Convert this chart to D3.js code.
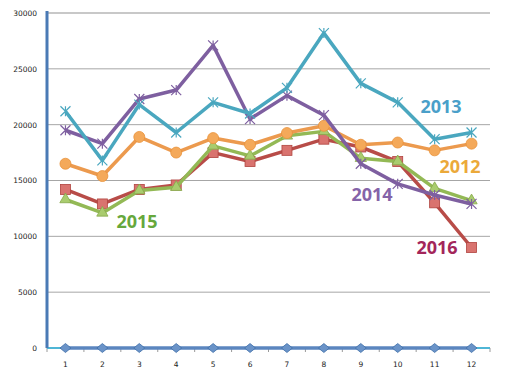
<!DOCTYPE html>
<meta charset="utf-8">
<style>
  body { margin: 0; background: #fff; }
  .tick text { font-family: "DejaVu Sans", sans-serif; font-size: 7.5px; fill: #222; }
  text.yr { font-family: "Open Sans", sans-serif; font-weight: 700; font-size: 18px; }
</style>
<script src="https://d3js.org/d3.v7.min.js"></script>
<div id="chart"></div>
<script>
// months 1..12
var months = [1, 2, 3, 4, 5, 6, 7, 8, 9, 10, 11, 12];
var yTicks = [0, 5000, 10000, 15000, 20000, 25000, 30000];

var zero  = [0, 0, 0, 0, 0, 0, 0, 0, 0, 0, 0, 0];
var v2012 = [16500, 15400, 18900, 17500, 18800, 18200, 19250, 19900, 18200, 18400, 17700, 18300];
var v2013 = [21200, 16800, 21800, 19300, 22000, 21000, 23300, 28200, 23700, 22000, 18700, 19300];
var v2014 = [19500, 18300, 22300, 23100, 27100, 20500, 22600, 20850, 16500, 14700, 13700, 12900];
var v2015 = [13300, 12100, 14100, 14400, 18100, 17200, 19000, 19400, 17000, 16700, 14300, 13200];
var v2016 = [14200, 12900, 14200, 14600, 17500, 16700, 17700, 18700, 18000, 16700, 13000, 9000];

var W = 509, H = 377;
var margin = {top: 13, right: 19, bottom: 29, left: 47};
var width = W - margin.left - margin.right,
    height = H - margin.top - margin.bottom;

var svg = d3.select("#chart").append("svg")
    .attr("width", W).attr("height", H)
  .append("g")
    .attr("transform", "translate(" + margin.left + "," + margin.top + ")");

var x = d3.scaleBand().domain(months).range([0, width]);
var y = d3.scaleLinear().domain([0, 30000]).range([height, 0]);
var cx = function(d) { return x(d) + x.bandwidth() / 2; };

// gridlines
svg.append("g")
  .selectAll("line").data(yTicks.slice(1)).enter().append("line")
    .attr("x1", 0).attr("x2", width)
    .attr("y1", function(d) { return y(d); })
    .attr("y2", function(d) { return y(d); })
    .attr("stroke", function(d) { return d == 30000 ? "#c8c8c8" : "#a6a6a6"; })
    .attr("stroke-width", function(d) { return d == 30000 ? 2 : 1; });

// y axis
var ya = svg.append("g")
  .call(d3.axisLeft(y).tickValues(yTicks).tickSize(0).tickPadding(10).tickFormat(d3.format("d")));
ya.select(".domain").remove();

// x axis
var xa = svg.append("g")
  .attr("transform", "translate(0," + height + ")")
  .call(d3.axisBottom(x).tickSize(0).tickPadding(14));
xa.select(".domain").remove();
svg.append("g").selectAll("line").data(d3.range(13)).enter().append("line")
  .attr("x1", function(i) { return i * x.bandwidth(); })
  .attr("x2", function(i) { return i * x.bandwidth(); })
  .attr("y1", height).attr("y2", height + 4)
  .attr("stroke", "#9a9a9a");
svg.append("line")
  .attr("x1", 0).attr("x2", width).attr("y1", height).attr("y2", height)
  .attr("stroke", "#4fb6d6").attr("stroke-width", 2);
svg.append("line")
  .attr("x1", 0).attr("x2", 0).attr("y1", y(30000) - 2).attr("y2", height)
  .attr("stroke", "#4a7ab5").attr("stroke-width", 3);

var line = d3.line()
  .x(function(d, i) { return cx(months[i]); })
  .y(function(d) { return y(d); });

function drawSeries(vals, color, marker, mfill) {
  svg.append("path").datum(vals)
    .attr("d", line).attr("fill", "none")
    .attr("stroke", color).attr("stroke-width", 3.5)
    .attr("stroke-linejoin", "round");
  var g = svg.append("g");
  vals.forEach(function(v, i) {
    var px = cx(months[i]), py = y(v);
    if (marker == "circle") {
      g.append("circle").attr("cx", px).attr("cy", py).attr("r", 5.5)
        .attr("fill", mfill).attr("stroke", "#e8923a").attr("stroke-width", 0.8);
    } else if (marker == "square") {
      g.append("rect").attr("x", px - 5).attr("y", py - 5).attr("width", 10).attr("height", 10)
        .attr("fill", mfill).attr("stroke", "#b0443f").attr("stroke-width", 0.8);
    } else if (marker == "triangle") {
      g.append("path").attr("transform", "translate(" + px + "," + py + ")")
        .attr("d", d3.symbol().type(d3.symbolTriangle).size(55))
        .attr("fill", mfill).attr("stroke", "#86a84a").attr("stroke-width", 0.8);
    } else if (marker == "diamond") {
      g.append("path").attr("transform", "translate(" + px + "," + py + ")")
        .attr("d", "M-5.5,0L0,-4.5L5.5,0L0,4.5Z")
        .attr("fill", mfill).attr("stroke", "#3f6fa8").attr("stroke-width", 0.8);
    } else if (marker == "star") {
      g.append("path").attr("transform", "translate(" + px + "," + py + ")")
        .attr("d", "M-5,-5L5,5M-5,5L5,-5M0,-5L0,5")
        .attr("stroke", color).attr("stroke-width", 1.2).attr("fill", "none");
    }
  });
}

drawSeries(zero, "#5b86bf", "diamond", "#6a93c8");
drawSeries(v2016, "#b84c48", "square", "#d9736f");
drawSeries(v2015, "#93b955", "triangle", "#a9cc6e");
drawSeries(v2012, "#ec9a4e", "circle", "#f4a95a");
drawSeries(v2014, "#7e5fa0", "star");
drawSeries(v2013, "#4aa7bf", "star");

// series labels
var labels = [
  {t: "2013", x: 441, y: 113, c: "#4a9fc9"},
  {t: "2012", x: 460, y: 173, c: "#eba93a"},
  {t: "2014", x: 372, y: 201, c: "#8563a8"},
  {t: "2016", x: 437, y: 254, c: "#a3265a"},
  {t: "2015", x: 137, y: 228, c: "#66a83c"}
];
d3.select("svg").selectAll("text.yr").data(labels).enter().append("text")
  .attr("class", "yr")
  .attr("x", function(d) { return d.x; })
  .attr("y", function(d) { return d.y; })
  .attr("text-anchor", "middle")
  .attr("fill", function(d) { return d.c; })
  .text(function(d) { return d.t; });
</script>
